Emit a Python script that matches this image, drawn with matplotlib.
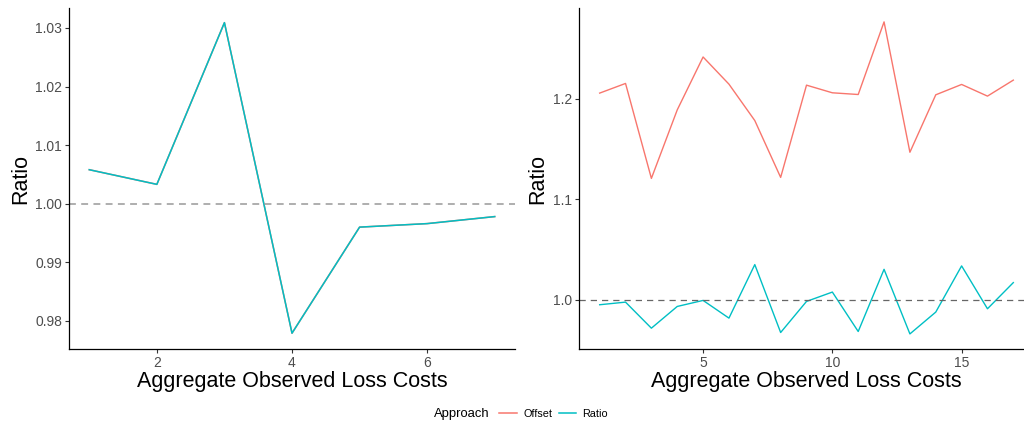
import matplotlib.pyplot as plt
from matplotlib.lines import Line2D

plt.rcParams['font.family'] = ['Liberation Sans', 'DejaVu Sans']

# data: left panel (7 groups)
x_left = [1, 2, 3, 4, 5, 6, 7]
offset_left = [1.0058, 1.0033, 1.0309, 0.9779, 0.9960, 0.9966, 0.9978]
ratio_left = [1.0058, 1.0033, 1.0309, 0.9779, 0.9960, 0.9966, 0.9978]

# data: right panel (17 groups)
x_right = list(range(1, 18))
offset_right = [1.2054, 1.2150, 1.1206, 1.1887, 1.2413, 1.2143, 1.1781, 1.1216, 1.2133,
                1.2057, 1.2040, 1.2762, 1.1466, 1.2037, 1.2140, 1.2024, 1.2183]
ratio_right = [0.9950, 0.9976, 0.9717, 0.9933, 0.9993, 0.9817, 1.0349, 0.9674, 0.9983,
               1.0076, 0.9684, 1.0302, 0.9660, 0.9877, 1.0336, 0.9910, 1.0170]

left_yticks = [0.98, 0.99, 1.00, 1.01, 1.02, 1.03]
left_xticks = [2, 4, 6]
right_yticks = [1.0, 1.1, 1.2]
right_xticks = [5, 10, 15]

c_off = '#F8766D'
c_rat = '#00BFC4'

fig = plt.figure(figsize=(10.24, 4.23), dpi=100)
ax1 = fig.add_axes([69/1024, 74/423, 446/1024, 341/423])
ax2 = fig.add_axes([579/1024, 74/423, 455/1024, 341/423])


def style(ax):
    for s in ['top', 'right']:
        ax.spines[s].set_visible(False)
    for s in ['left', 'bottom']:
        ax.spines[s].set_color('black')
        ax.spines[s].set_linewidth(0.9)
    ax.tick_params(axis='both', length=3, width=0.8, color='#333333',
                   labelsize=10, labelcolor='#4D4D4D', pad=2)
    ax.set_xlabel('Aggregate Observed Loss Costs', fontsize=15.5, labelpad=1)
    ax.set_ylabel('Ratio', fontsize=15.5, labelpad=3)


# left panel
ax1.plot(x_left, offset_left, color=c_off, lw=1.1)
ax1.plot(x_left, ratio_left, color=c_rat, lw=1.1)
ax1.axhline(1.0, color='#999999', ls=(0, (4.5, 3.5)), lw=1.1)
ax1.set_xlim(0.7, 7.3)
ax1.set_ylim(0.9752, 1.0334)
ax1.set_xticks(left_xticks)
ax1.set_yticks(left_yticks)
ax1.set_yticklabels([f'{v:.2f}' for v in left_yticks])
style(ax1)

# right panel
ax2.plot(x_right, offset_right, color=c_off, lw=1.0)
ax2.plot(x_right, ratio_right, color=c_rat, lw=1.0)
ax2.axhline(1.0, color='#666666', ls=(0, (5, 4)), lw=0.9)
ax2.set_xlim(0.2, 17.8)
ax2.set_ylim(0.951, 1.290)
ax2.set_xticks(right_xticks)
ax2.set_yticks(right_yticks)
ax2.set_yticklabels([f'{v:.1f}' for v in right_yticks])
style(ax2)

# legend at the bottom
fig.text(490/1024, 1 - 414/423, 'Approach', fontsize=9.4, ha='right', va='center')
handles = [Line2D([], [], color=c_off, lw=1.1), Line2D([], [], color=c_rat, lw=1.1)]
fig.legend(handles, ['Offset', 'Ratio'], loc='center left', ncol=2,
           bbox_to_anchor=(494/1024, 1 - 414/423), frameon=False, fontsize=7.8,
           handlelength=1.6, handletextpad=0.6, columnspacing=0.6, borderpad=0)

fig.savefig('out.png', dpi=100)
